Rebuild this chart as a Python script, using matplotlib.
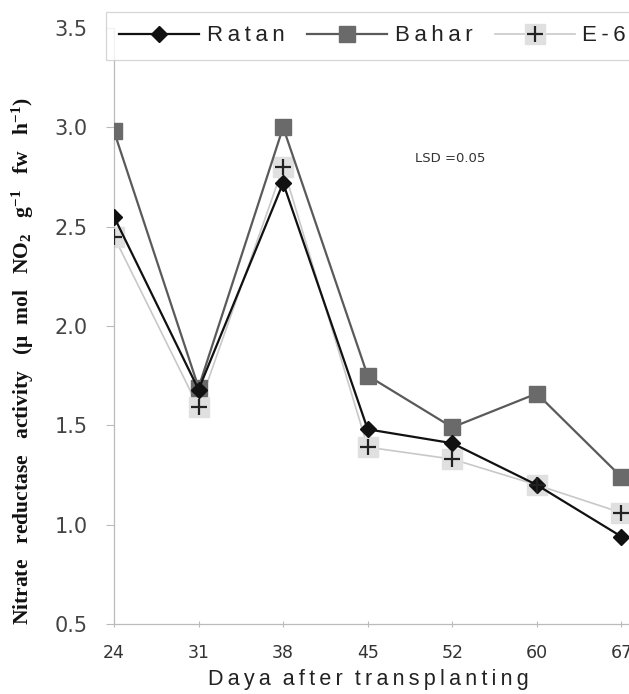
import matplotlib
matplotlib.use("Agg")
import matplotlib.pyplot as plt
from matplotlib.lines import Line2D
from matplotlib.legend_handler import HandlerTuple

days = ["24", "31", "38", "45", "52", "60", "67"]
ratan = [2.55, 1.68, 2.72, 1.48, 1.41, 1.20, 0.94]
bahar = [2.98, 1.69, 3.00, 1.75, 1.49, 1.66, 1.24]
e6 = [2.45, 1.59, 2.80, 1.39, 1.33, 1.20, 1.06]
yticks = [0.5, 1.0, 1.5, 2.0, 2.5, 3.0, 3.5]
series_names = ["Ratan", "Bahar", "E-6"]

TS = "\u2009"  # thin space for letter spacing


def spaced(s):
    return TS.join(list(s))


plt.rcParams['mathtext.fontset'] = 'custom'
plt.rcParams['mathtext.rm'] = 'Liberation Serif:bold'
plt.rcParams['mathtext.default'] = 'rm'

fig = plt.figure(figsize=(6.29, 6.94), dpi=100)
ax = fig.add_axes([114/629, 1-624/694, (629-114)/629, (624-28)/694])

x = list(range(len(days)))
l_e6, = ax.plot(x, e6, color='#c8c8c8', lw=1.2, marker='s', ms=14,
                mfc='#e0e0e0', mec='#e0e0e0', zorder=2)
p_e6, = ax.plot(x, e6, ls='none', marker='+', ms=12, mew=1.6,
                color='#222222', zorder=5)
l_bahar, = ax.plot(x, bahar, color='#5a5a5a', lw=1.6, marker='s', ms=12,
                   mfc='#6a6a6a', mec='#6a6a6a', zorder=3)
l_ratan, = ax.plot(x, ratan, color='#111111', lw=1.6, marker='D', ms=8,
                   mfc='#111111', mec='#111111', zorder=4)

ax.set_xlim(0, 6.09)
ax.set_ylim(0.5, 3.5)
ax.set_xticks(x)
ax.set_xticklabels(days, fontsize=12.5, color='#333333', family='DejaVu Sans')
ax.set_yticks(yticks)
ax.set_yticklabels([f"{v:.1f}" for v in yticks], fontsize=15, color='#444444',
                   family='DejaVu Sans')
ax.tick_params(axis='y', length=6, width=0.8, color='#bbbbbb', pad=13)
ax.tick_params(axis='x', length=5, width=0.8, color='#bbbbbb', pad=12,
               direction='inout')
for s in ['top', 'right']:
    ax.spines[s].set_visible(False)
for s in ['left', 'bottom']:
    ax.spines[s].set_color('#bbbbbb')
    ax.spines[s].set_linewidth(0.9)

fig.text(368/629, 1-680/694, spaced("Daya") + "  " + spaced("after") + "  " + spaced("transplanting"),
         fontsize=15.5, color='#222222', ha='center', va='center',
         family=['Liberation Sans', 'DejaVu Sans'])
fig.text(23/629, 1-361/694,
         "Nitrate   reductase   activity   (μ  mol   NO$_2$   g$^{-1}$   fw   h$^{-1}$)",
         rotation=90, ha='center', va='center', fontsize=15.5,
         family='Liberation Serif', fontweight='bold', color='#111111')

fig.text(415/629, 1-158/694, "LSD =0.05",
         fontsize=9.5, color='#333333', va='center', ha='left',
         family='DejaVu Sans')

h_e6 = (Line2D([], [], color='#c8c8c8', lw=1.2, marker='s', ms=14,
               mfc='#e0e0e0', mec='#e0e0e0'),
        Line2D([], [], ls='none', marker='+', ms=12, mew=1.6, color='#222222'))
h_ratan = Line2D([], [], color='#111111', lw=1.6, marker='D', ms=8,
                 mfc='#111111', mec='#111111')
h_bahar = Line2D([], [], color='#5a5a5a', lw=1.6, marker='s', ms=12,
                 mfc='#6a6a6a', mec='#6a6a6a')
leg = fig.legend([h_ratan, h_bahar, h_e6], [spaced(n) for n in series_names],
                 loc='upper left', bbox_to_anchor=(106/629, 1-12/694),
                 borderaxespad=0, ncol=3, frameon=True, fancybox=False,
                 handlelength=3.6, handletextpad=0.35, columnspacing=1.0,
                 borderpad=0.6,
                 handler_map={tuple: HandlerTuple(ndivide=1)},
                 prop={'family': ['Liberation Sans', 'DejaVu Sans'], 'size': 16})
leg.get_frame().set_edgecolor('#cccccc')
leg.get_frame().set_linewidth(0.9)
for t in leg.get_texts():
    t.set_color('#222222')

fig.savefig("out.png", dpi=100)
